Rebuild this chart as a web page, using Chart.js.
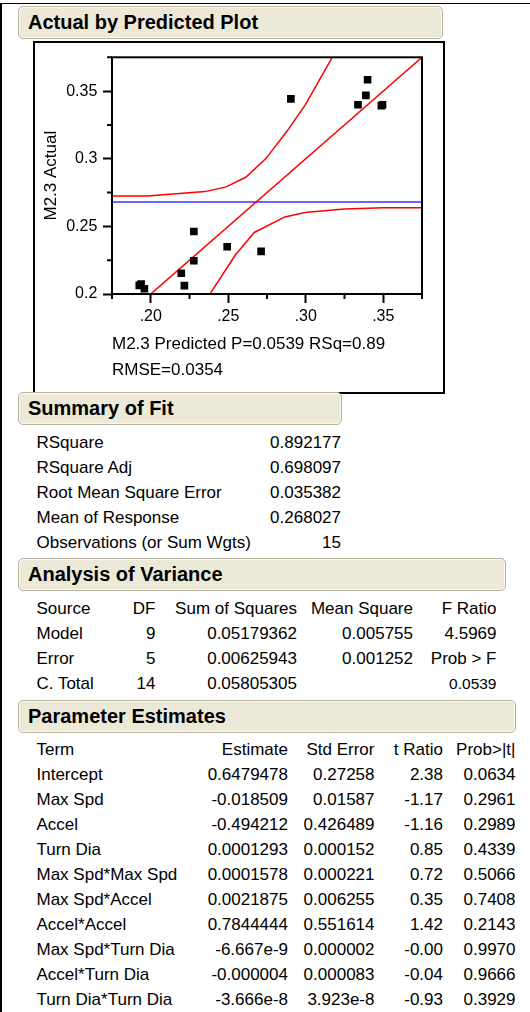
<!DOCTYPE html>
<html><head><meta charset="utf-8">
<script src="https://cdn.jsdelivr.net/npm/chart.js@4.4.1/dist/chart.umd.min.js"></script>
<style>
html,body{margin:0;padding:0;background:#fff;}
#page{position:relative;width:530px;height:1012px;overflow:hidden;font-family:"Liberation Sans",Arial,Helvetica,sans-serif;color:#000;}
.hline{position:absolute;left:0;top:2.5px;width:530px;height:1.6px;background:#000;}
.vline{position:absolute;left:0;top:2.5px;width:2px;height:1010px;background:#000;}
.hdr{position:absolute;left:17.5px;height:33px;box-sizing:border-box;border:1px solid #b7b3a0;border-radius:5px;background:#ece9d9;box-shadow:inset 0 0 0 1px #f8f7f0;font-weight:bold;font-size:20px;line-height:31px;padding-left:9.5px;white-space:nowrap;}
.plotbox{position:absolute;left:33.3px;top:40.7px;width:412px;height:353px;box-sizing:border-box;border:2px solid #000;}
#cv{position:absolute;left:35px;top:42px;}
.c{position:absolute;height:25px;line-height:25px;font-size:17px;white-space:nowrap;}
.r{text-align:right;}
.s{font-size:15.5px;}
</style></head>
<body><div id="page">
<div class="hline"></div><div class="vline"></div>
<div class="hdr" style="top:6px;width:425px;">Actual by Predicted Plot</div>
<div class="plotbox"></div>
<canvas id="cv" width="409" height="351" style="width:409px;height:351px;"></canvas>
<div class="hdr" style="top:392px;width:324px;">Summary of Fit</div>
<div class="hdr" style="top:558px;width:488px;">Analysis of Variance</div>
<div class="hdr" style="top:700px;width:498px;">Parameter Estimates</div>
<div id="tables"></div>
</div>
<script>
// ---------- plot data ----------
const actualX = [0.2904,0.3399,0.3388,0.3337,0.3488,0.3495,0.2278,0.2493,0.2712,0.2278,0.2197,0.2217,0.1926,0.1938,0.1959];
const actualY = [0.3443,0.3584,0.3468,0.3399,0.3392,0.3399,0.2462,0.2349,0.2315,0.2246,0.2153,0.2062,0.2064,0.2074,0.2039];
const fitLineX = [0.175,0.375];
const fitLineY = [0.175,0.375];
const upperX = [0.175,0.1978,0.235,0.2486,0.2613,0.2744,0.2876,0.2996,0.3178];
const upperY = [0.2725,0.2725,0.2757,0.2792,0.2863,0.3003,0.3199,0.3396,0.3764];
const lowerX = [0.2376,0.2547,0.2668,0.2865,0.2996,0.3248,0.35,0.375];
const lowerY = [0.199,0.229,0.2455,0.257,0.2602,0.2628,0.2637,0.2637];
const meanResponse = 0.268027;
const xTickValues = [0.175,0.2,0.225,0.25,0.275,0.3,0.325,0.35,0.375];
const xTickLabels = ['','.20','','.25','','.30','','.35',''];
const yTickValues = [0.2,0.225,0.25,0.275,0.3,0.325,0.35,0.375];
const yTickLabels = ['0.2','','0.25','','0.3','','0.35',''];
const yTitle = 'M2.3 Actual';
const xTitle = ['M2.3 Predicted P=0.0539 RSq=0.89','RMSE=0.0354'];

// ---------- table data ----------
const fitLabels = ['RSquare','RSquare Adj','Root Mean Square Error','Mean of Response','Observations (or Sum Wgts)'];
const fitValues = ['0.892177','0.698097','0.035382','0.268027','15'];
const anovaHead = ['Source','DF','Sum of Squares','Mean Square','F Ratio'];
const anovaSource = ['Model','Error','C. Total'];
const anovaDF = ['9','5','14'];
const anovaSS = ['0.05179362','0.00625943','0.05805305'];
const anovaMS = ['0.005755','0.001252',''];
const anovaF = ['4.5969','Prob > F','0.0539'];
const peHead = ['Term','Estimate','Std Error','t Ratio','Prob>|t|'];
const peTerm = ['Intercept','Max Spd','Accel','Turn Dia','Max Spd*Max Spd','Max Spd*Accel','Accel*Accel','Max Spd*Turn Dia','Accel*Turn Dia','Turn Dia*Turn Dia'];
const peEst = ['0.6479478','-0.018509','-0.494212','0.0001293','0.0001578','0.0021875','0.7844444','-6.667e-9','-0.000004','-3.666e-8'];
const peSE = ['0.27258','0.01587','0.426489','0.000152','0.000221','0.006255','0.551614','0.000002','0.000083','3.923e-8'];
const peT = ['2.38','-1.17','-1.16','0.85','0.72','0.35','1.42','-0.00','-0.04','-0.93'];
const peP = ['0.0634','0.2961','0.2989','0.4339','0.5066','0.7408','0.2143','0.9970','0.9666','0.3929'];

// ---------- build tables ----------
const T = document.getElementById('tables');
function cell(text, x, cy, right, cls){
  const d = document.createElement('div');
  d.className = 'c' + (right ? ' r' : '') + (cls ? ' ' + cls : '');
  d.textContent = text;
  d.style.top = (cy - 12.5) + 'px';
  if (right) d.style.right = (530 - x) + 'px'; else d.style.left = x + 'px';
  T.appendChild(d);
}
fitLabels.forEach((l,i)=>{ const cy = 442.5 + 25*i; cell(l,36.5,cy,false); cell(fitValues[i],341,cy,true); });
const aCols = [155.5,297,413,496.5];
cell(anovaHead[0],36.5,608.5,false);
anovaHead.slice(1).forEach((h,j)=>cell(h,aCols[j],608.5,true));
anovaSource.forEach((s,i)=>{
  const cy = 633.5 + 25*i;
  cell(s,36.5,cy,false);
  cell(anovaDF[i],aCols[0],cy,true);
  cell(anovaSS[i],aCols[1],cy,true);
  if (anovaMS[i]) cell(anovaMS[i],aCols[2],cy,true);
  cell(anovaF[i],aCols[3],cy,true, i===2 ? 's' : '');
});
const pCols = [288,374.5,443,515.5];
cell(peHead[0],36.5,749.5,false);
peHead.slice(1).forEach((h,j)=>cell(h,pCols[j],749.5,true));
peTerm.forEach((t,i)=>{
  const cy = 774.5 + 25*i;
  cell(t,36.5,cy,false);
  cell(peEst[i],pCols[0],cy,true);
  cell(peSE[i],pCols[1],cy,true);
  cell(peT[i],pCols[2],cy,true);
  cell(peP[i],pCols[3],cy,true);
});

// ---------- chart ----------
const FONT = '"Liberation Sans", Arial, Helvetica, sans-serif';
const zip = (xs, ys) => xs.map((v,i)=>({x:v, y:ys[i]}));
const framePlugin = {
  id: 'frame',
  afterDraw(chart){
    const {ctx, chartArea:a, scales:{x, y}} = chart;
    ctx.save();
    ctx.strokeStyle = '#000';
    ctx.lineWidth = 2;
    ctx.strokeRect(a.left, a.top, a.right - a.left, a.bottom - a.top);
    ctx.beginPath();
    xTickValues.forEach((v,i)=>{ if (!xTickLabels[i]) { const p = x.getPixelForValue(v); ctx.moveTo(p, a.bottom); ctx.lineTo(p, a.bottom + 5); } });
    yTickValues.forEach((v,i)=>{ if (!yTickLabels[i]) { const p = y.getPixelForValue(v); ctx.moveTo(a.left, p); ctx.lineTo(a.left - 5, p); } });
    ctx.stroke();
    ctx.restore();
  }
};
new Chart(document.getElementById('cv'), {
  type: 'scatter',
  data: {
    datasets: [
      {data: zip(actualX, actualY), pointStyle:'rect', pointRadius:5.4, pointBorderWidth:0, backgroundColor:'#000', borderColor:'#000', showLine:false},
      {data: zip(fitLineX, fitLineY), showLine:true, borderColor:'#ff0000', borderWidth:1.5, pointRadius:0, fill:false},
      {data: zip(upperX, upperY), showLine:true, borderColor:'#ff0000', borderWidth:1.5, pointRadius:0, fill:false, tension:0},
      {data: zip(lowerX, lowerY), showLine:true, borderColor:'#ff0000', borderWidth:1.5, pointRadius:0, fill:false, tension:0},
      {data: [{x:0.175, y:meanResponse},{x:0.375, y:meanResponse}], showLine:true, borderColor:'#3535ff', borderWidth:1.6, pointRadius:0, fill:false}
    ]
  },
  options: {
    responsive:false, animation:false,
    layout:{padding:{top:11.3, right:22, left:0, bottom:0}},
    plugins:{legend:{display:false}, tooltip:{enabled:false}},
    scales:{
      x:{
        type:'linear', min:0.175, max:0.375,
        afterBuildTicks:(s)=>{ s.ticks = xTickValues.map(v=>({value:v})); },
        afterFit:(s)=>{ s.height = 99; },
        ticks:{autoSkip:false, maxRotation:0, padding:3.7, color:'#000', font:{family:FONT, size:16, lineHeight:1.2}, callback:(v,i)=>xTickLabels[i]},
        grid:{display:true, drawOnChartArea:false, drawTicks:true, tickLength:9, tickWidth:2, tickColor:(c)=> xTickLabels[c.index] ? '#000' : 'rgba(0,0,0,0)'},
        border:{display:false},
        title:{display:true, text:xTitle, align:'start', color:'#000', font:{family:FONT, size:17, lineHeight:1.5}, padding:{top:0, bottom:10.3}}
      },
      y:{
        type:'linear', min:0.2, max:0.375,
        afterBuildTicks:(s)=>{ s.ticks = yTickValues.map(v=>({value:v})); },
        afterFit:(s)=>{ s.width = 77; },
        ticks:{autoSkip:false, padding:5.7, color:'#000', font:{family:FONT, size:16, lineHeight:1.2}, callback:(v,i)=>yTickLabels[i]},
        grid:{display:true, drawOnChartArea:false, drawTicks:true, tickLength:9, tickWidth:2, tickColor:(c)=> yTickLabels[c.index] ? '#000' : 'rgba(0,0,0,0)'},
        border:{display:false},
        title:{display:true, text:yTitle, color:'#000', font:{family:FONT, size:17, lineHeight:1.2}, padding:{top:6.3, bottom:0}}
      }
    }
  },
  plugins:[framePlugin]
});
</script>
</body></html>
